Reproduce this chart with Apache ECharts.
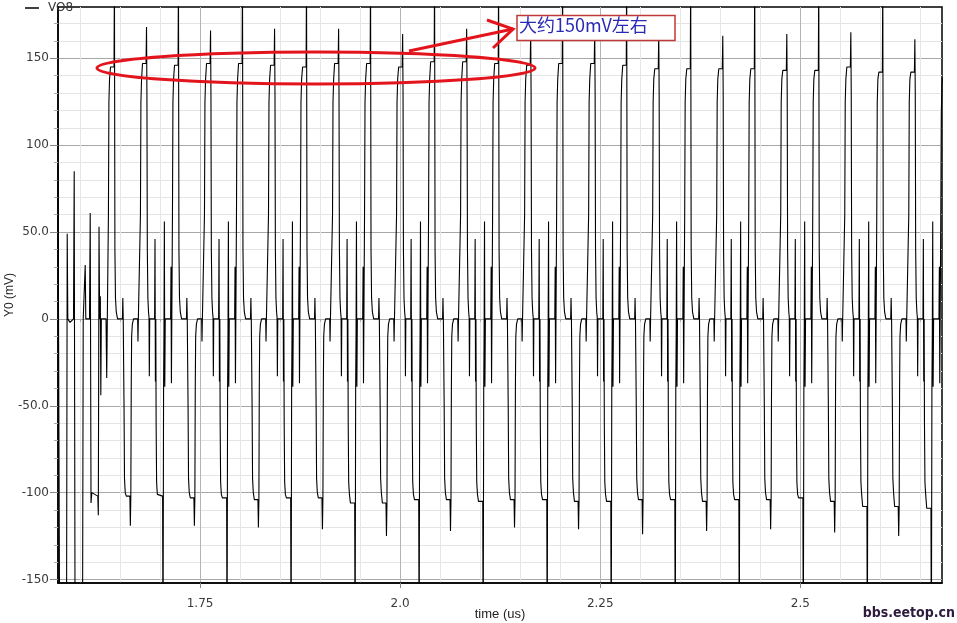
<!DOCTYPE html>
<html><head><meta charset="utf-8">
<script src="https://cdn.jsdelivr.net/npm/echarts@6/dist/echarts.min.js"></script>
<style>html,body{margin:0;padding:0;background:#fff}#c{width:957px;height:623px}</style>
</head><body><div id="c"></div>
<script>
// ---- axis ticks / labels ----
const xMajorTicks = [1.75, 2.0, 2.25, 2.5];
const xMajorLabels = ['1.75', '2.0', '2.25', '2.5'];
const xMinorTicks = [1.6, 1.65, 1.7, 1.8, 1.85, 1.9, 1.95, 2.05, 2.1, 2.15, 2.2, 2.3, 2.35, 2.4, 2.45, 2.55, 2.6, 2.65];
const yMajorTicks = [-150, -100, -50, 0, 50, 100, 150];
const yMajorLabels = ['-150', '-100', '-50.0', '0', '50.0', '100', '150'];
const yMinorTicks = [-140, -130, -120, -110, -90, -80, -70, -60, -40, -30, -20, -10, 10, 20, 30, 40, 60, 70, 80, 90, 110, 120, 130, 140, 160, 170];

// ---- waveform VO8 (time in us, value in mV) ----
// start-up transient, read point by point
const startT = [1.5725, 1.574375, 1.58325, 1.584, 1.58475, 1.5875, 1.591875, 1.59275, 1.59375, 1.60325, 1.604, 1.605625, 1.6065, 1.60725, 1.611875, 1.61275, 1.61375, 1.61475, 1.615625, 1.62225, 1.622875, 1.62375, 1.6245, 1.625375, 1.626, 1.626625, 1.6325, 1.633375, 1.634125];
const startV = [88, -160, -160, 49, 0, -2, 0, 85, -160, -160, 0, -1, 31, 0, 0, 61, -106, -100, -101, -102, -113, 53, 0, 13, -44, 0, 0, -34, 0];

// start time of each switching cycle (rise to the high plateau)
const cycleStart = [1.635, 1.675, 1.715, 1.755, 1.795, 1.835, 1.875, 1.915, 1.955, 1.995, 2.035, 2.075, 2.115, 2.155, 2.195, 2.235, 2.275, 2.315, 2.355, 2.395, 2.435, 2.475, 2.515, 2.555, 2.595, 2.635];
const cycleKind = ['A','B','A','B','A','B','A','B','A','B','A','B','A','B','A','B','A','B','A','B','A','B','A','B','A','B'];
const highLevel = [145, 147, 146, 147, 147, 146, 145, 147, 147, 145, 148, 148, 147, 146, 147, 147, 146, 144, 144, 144, 144, 143, 143, 145, 142, 142];
const lowLevel = [-102, -102, -103, -103, -104, -103, -103, -106, -106, -104, -104, -105, -104, -104, -105, -105, -104, -104, -105, -104, -104, -103, -105, -108, -108, -109];
const peakLevel = [-119, 168, -119, 166, -120, 167, -121, 167, -125, 164, -122, 167, -120, 165, -121, 166, -124, 165, -122, 163, -121, 164, -123, 165, -125, 161];

// shape of one cycle, offsets in ns from the cycle start
const shapeA_ns = [0, 0.5, 1.1, 1.9, 3.1, 4.4, 7.5, 8.0, 8.6, 9.3, 10.3, 11.9, 18.0, 18.5, 19.0, 19.5, 20.0, 20.6, 21.5, 22.8, 27.3, 27.9, 28.5, 29.0, 29.5, 30.4, 31.9, 37.0, 37.4, 37.9];
const shapeA_mv = [0, 60, 125, 138, 'hi', 'hi', 'hi', 200, 40, 12, 4, 0, 0, 12, 0, 0, -50, -92, -100, 'lo', 'lo', 'pk', 'lo', -40, -10, -3, 0, 0, -13, 0];
const shapeB_ns = [0, 0.5, 1.1, 1.9, 3.1, 4.4, 7.5, 8.1, 8.6, 9.1, 9.8, 10.6, 11.2, 11.6, 12.1, 18.2, 18.7, 19.2, 19.7, 20.1, 20.7, 21.6, 22.9, 28.2, 28.7, 29.4, 29.9, 30.4, 30.9, 31.5, 38.2, 38.7, 39.2, 39.7];
const shapeB_mv = [0, 60, 125, 138, 'hi', 'hi', 'hi', 'pk', 130, 40, 12, 4, 1, -33, 0, 0, 46, -36, 0, -60, -94, -101, 'lo', 'lo', -200, -40, -8, 56, -39, 0, 0, 30, -37, 0];

// last partial rise at the right edge
const endT = [2.675, 2.6755, 2.67613, 2.67688, 2.6775];
const endV = [0, 60, 118, 134, 139];

// ---- build series data ----
const wave = [];
startT.forEach((t, i) => wave.push([t, startV[i]]));
cycleStart.forEach((s, i) => {
  const ns = cycleKind[i] === 'A' ? shapeA_ns : shapeB_ns;
  const mv = cycleKind[i] === 'A' ? shapeA_mv : shapeB_mv;
  ns.forEach((o, j) => {
    let v = mv[j];
    if (v === 'hi') v = highLevel[i];
    else if (v === 'lo') v = lowLevel[i];
    else if (v === 'pk') v = peakLevel[i];
    wave.push([+(s + o / 1000).toFixed(6), v]);
  });
});
endT.forEach((t, i) => wave.push([t, endV[i]]));

const chart = echarts.init(document.getElementById('c'), null, {renderer: 'canvas'});
const labelFont = {fontFamily: 'DejaVu Sans', fontSize: 12, color: '#3a3a3a'};
const option = {
  animation: false,
  backgroundColor: '#fff',
  grid: {left: 58, right: 15, top: 7, bottom: 40, containLabel: false, outerBoundsMode: 'none',
    show: true, borderColor: '#000', borderWidth: 1.5, backgroundColor: '#fff'},
  legend: {
    show: true, left: 20, top: -3, itemWidth: 14, itemHeight: 1.5, icon: 'rect',
    data: ['VO8'],
    itemStyle: {color: '#000'},
    textStyle: {fontFamily: 'DejaVu Sans', fontSize: 12, color: '#333', padding: [0, 0, 0, 4]}
  },
  xAxis: [{
    type: 'value', min: 1.5725, max: 2.677,
    axisLine: {show: true, onZero: false, lineStyle: {color: '#000', width: 1.5}},
    axisTick: {show: true, length: 5, customValues: xMajorTicks, lineStyle: {color: '#888'}},
    axisLabel: {show: true, customValues: xMajorTicks, margin: 15, ...labelFont,
      formatter: v => { const k = xMajorTicks.findIndex(x => Math.abs(x - v) < 1e-6); return k >= 0 ? xMajorLabels[k] : ''; }},
    splitLine: {show: true, lineStyle: {color: '#b4b4b4', width: 1}},
    name: 'time (us)', nameLocation: 'middle', nameGap: 25, nameMoveOverlap: false,
    nameTextStyle: {fontFamily: 'Liberation Sans', fontSize: 13, color: '#222'}
  }, {
    type: 'value', min: 1.5725, max: 2.677, position: 'bottom',
    axisLine: {show: false},
    axisTick: {show: true, length: 3, customValues: xMinorTicks, lineStyle: {color: '#aaa'}},
    axisLabel: {show: false},
    splitLine: {show: true, lineStyle: {color: '#e6e6e6', width: 1}}
  }],
  yAxis: [{
    type: 'value', min: -152, max: 179.5,
    axisLine: {show: true, onZero: false, lineStyle: {color: '#000', width: 1.5}},
    axisTick: {show: true, length: 8, customValues: yMajorTicks, lineStyle: {color: '#888'}},
    axisLabel: {show: true, customValues: yMajorTicks, margin: 9, ...labelFont,
      formatter: v => { const k = yMajorTicks.findIndex(y => Math.abs(y - v) < 1e-6); return k >= 0 ? yMajorLabels[k] : ''; }},
    splitLine: {show: true, lineStyle: {color: '#a8a8a8', width: 1}},
    name: 'Y0 (mV)', nameLocation: 'middle', nameGap: 42, nameRotate: 90, nameMoveOverlap: false,
    nameTextStyle: {fontFamily: 'Liberation Sans', fontSize: 12, color: '#222'}
  }, {
    type: 'value', min: -152, max: 179.5, position: 'left', offset: 0,
    axisLine: {show: false},
    axisTick: {show: true, length: 4, customValues: yMinorTicks, lineStyle: {color: '#aaa'}},
    axisLabel: {show: false},
    splitLine: {show: true, lineStyle: {color: '#e4e4e4', width: 1}}
  }],
  series: [{
    name: 'VO8', type: 'line', xAxisIndex: 0, yAxisIndex: 0,
    data: wave, symbol: 'none', showSymbol: false, clip: true,
    lineStyle: {color: '#000', width: 1.1}, itemStyle: {color: '#000'},
    z: 3
  }]
};
chart.setOption(option);

// ---- annotation (hand-drawn marks in the reference) ----
chart.setOption({
  graphic: [
    {type: 'ellipse', z: 100, shape: {cx: 316, cy: 68, rx: 219, ry: 16},
      style: {fill: 'none', stroke: '#e3141c', lineWidth: 3}},
    {type: 'polyline', z: 100, shape: {points: [[409, 51], [513, 29]]},
      style: {stroke: '#e3141c', lineWidth: 3, fill: 'none'}},
    {type: 'polyline', z: 100, shape: {points: [[487, 20], [513, 29], [493, 48]]},
      style: {stroke: '#e3141c', lineWidth: 3, fill: 'none'}},
    {type: 'rect', z: 100, shape: {x: 517, y: 15.5, width: 158, height: 25},
      style: {fill: '#fff', stroke: '#c03838', lineWidth: 1.5}},
    {type: 'text', z: 101, left: 519, top: 16,
      style: {text: '大约150mV左右', fill: '#2a2ab4', font: '18px "Noto Sans CJK SC"'}},
    {type: 'text', z: 101, right: 2, bottom: 3,
      style: {text: 'bbs.eetop.cn', fill: '#2d1b3d', font: 'bold 14px "DejaVu Sans Condensed"'}}
  ]
});
</script></body></html>
